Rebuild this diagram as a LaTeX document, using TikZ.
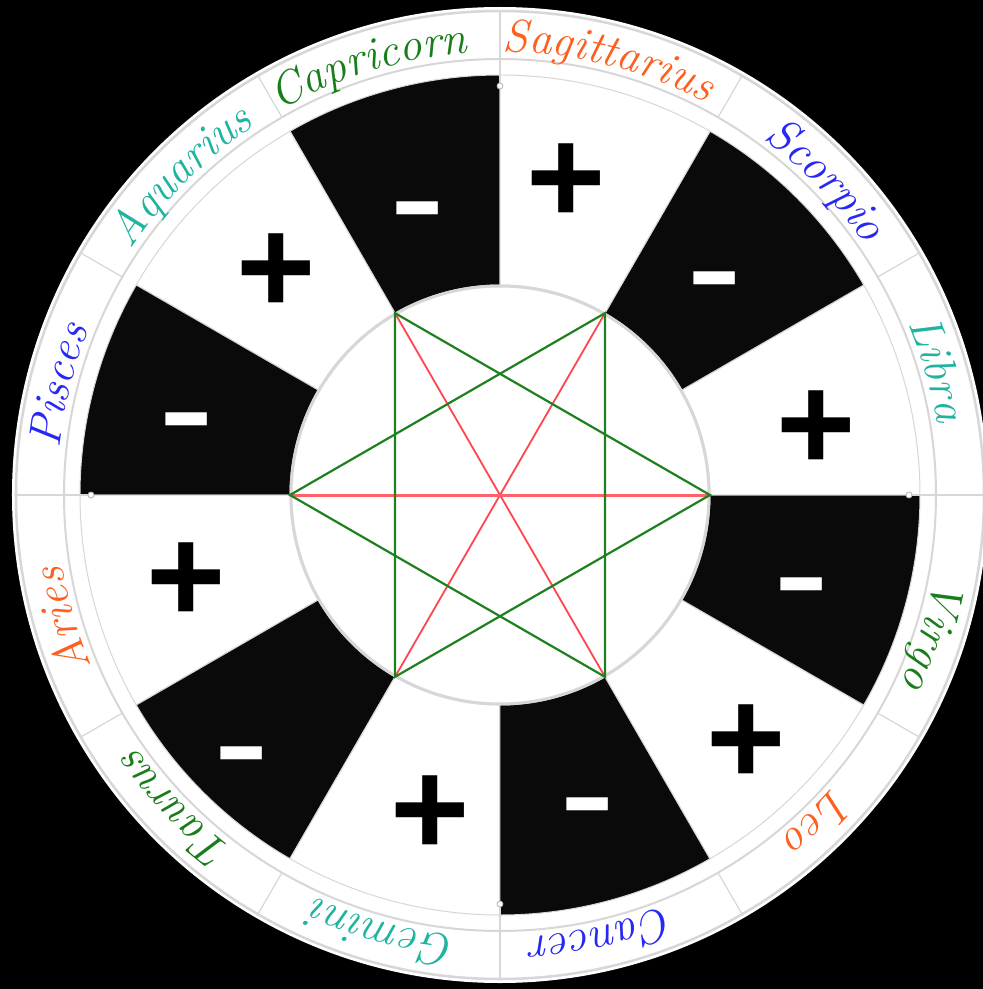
\documentclass[tikz,border=0pt]{standalone}
\usepackage{fontspec}
\usepackage{graphicx}
\newfontfamily\signfont{Liberation Sans}
\usetikzlibrary{decorations.text}
\definecolor{earthc}{RGB}{25,125,25}
\definecolor{firec}{RGB}{255,95,30}
\definecolor{waterc}{RGB}{40,40,245}
\definecolor{airc}{RGB}{30,180,160}
\definecolor{stargreen}{RGB}{30,128,30}
\definecolor{starred}{RGB}{255,70,80}
\definecolor{ringgray}{RGB}{215,215,215}
\definecolor{secblack}{RGB}{10,10,10}
\newcommand\zodiaclabel[3]{%
  \path[decorate,decoration={text along path,text align=center,text color=#2,
    text={|\itshape\fontsize{46}{46}\selectfont|#3}}]
    ({#1+40}:443) arc[start angle={#1+40},end angle={#1-40},radius=443];}
\begin{document}
\begin{tikzpicture}[x=1pt,y=1pt,
  ringline/.style={draw=ringgray,line width=#1},
  ringline/.default=1.5,
  sectorbox/.style={draw=ringgray,line width=1,fill=#1},
  greenline/.style={draw=stargreen,line width=2.2},
  redline/.style={draw=starred,line width=1.8},
  plussign/.style={font=\signfont\bfseries\fontsize{136}{136}\selectfont,text=black,inner sep=0,yshift=-7},
  minussign/.style={font=\signfont\bfseries\fontsize{136}{136}\selectfont,text=white,inner sep=0,yshift=-13},
  tipmark/.style={circle,draw=gray!60,fill=white,line width=0.8,inner sep=0,minimum size=6}]
\useasboundingbox (-500,-494) rectangle (483,495);
\fill[black] (-500,-494) rectangle (483,495);
% outer ring
\fill[white] (0,0) circle[radius=488];
\draw[ringline=2.5] (0,0) circle[radius=484];
\draw[ringline=2] (0,0) circle[radius=436];
\foreach \ang in {0,30,...,330} \draw[ringline=1.2] (\ang:436) -- (\ang:484);
% sectors
\foreach \a/\f in {0/white,30/secblack,60/white,90/secblack,120/white,150/secblack,
                   180/white,210/secblack,240/white,270/secblack,300/white,330/secblack}{
  \pgfmathsetmacro\b{\a+30}
  \path[sectorbox=\f] (\a:210) -- (\a:420) arc[start angle=\a,end angle=\b,radius=420]
    -- (\b:210) arc[start angle=\b,end angle=\a,radius=210] -- cycle;
}
% axis lines with small end marks
\foreach \ang in {0,90,180,270}{
  \draw[ringline=1.2] (\ang:409) -- (\ang:436);
  \node[tipmark] (tip\ang) at (\ang:409) {};
}
% inner circle
\fill[white] (0,0) circle[radius=209];
\draw[ringline=3] (0,0) circle[radius=209];
% star
\foreach \k in {0,...,5} \coordinate (v\k) at (\k*60:210);
\draw[redline] (v1) -- (v4);
\draw[redline] (v2) -- (v5);
\draw[redline,draw=starred!85!white,line width=3] (v3) -- (v0);
\draw[greenline] (v0) -- (v2) -- (v4) -- cycle;
\draw[greenline] (v1) -- (v3) -- (v5) -- cycle;
% signs
\node[plussign] (pSag) at (66.3,318.3) {+};
\node[plussign] (pAqu) at (-223.3,228.3) {+};
\node[plussign] (pLib) at (316.3,71.7) {+};
\node[plussign] (pAri) at (-313.3,-80.7) {+};
\node[plussign] (pGem) at (-70,-314) {+};
\node[plussign] (pLeo) at (246.3,-242.3) {+};
\node[minussign] (mCap) at (-82.5,289.2) {\scalebox{1.2}[0.8]{-}};
\node[minussign] (mPis) at (-313.3,78.3) {\scalebox{1.2}[0.8]{-}};
\node[minussign] (mSco) at (214.7,219.2) {\scalebox{1.2}[0.8]{-}};
\node[minussign] (mVir) at (301.3,-87.3) {\scalebox{1.2}[0.8]{-}};
\node[minussign] (mCan) at (88,-307.3) {\scalebox{1.2}[0.8]{-}};
\node[minussign] (mTau) at (-258.3,-256.5) {\scalebox{1.2}[0.8]{-}};
% labels
\zodiaclabel{107}{earthc}{Capricorn}
\zodiaclabel{76}{firec}{Sagittarius}
\zodiaclabel{44}{waterc}{Scorpio}
\zodiaclabel{16}{airc}{Libra}
\zodiaclabel{-18}{earthc}{Virgo}
\zodiaclabel{-46}{firec}{Leo}
\zodiaclabel{-77}{waterc}{Cancer}
\zodiaclabel{-105}{airc}{Gemini}
\zodiaclabel{-136}{earthc}{Taurus}
\zodiaclabel{-164}{firec}{Aries}
\zodiaclabel{166}{waterc}{Pisces}
\zodiaclabel{135}{airc}{Aquarius}
\end{tikzpicture}
\end{document}
